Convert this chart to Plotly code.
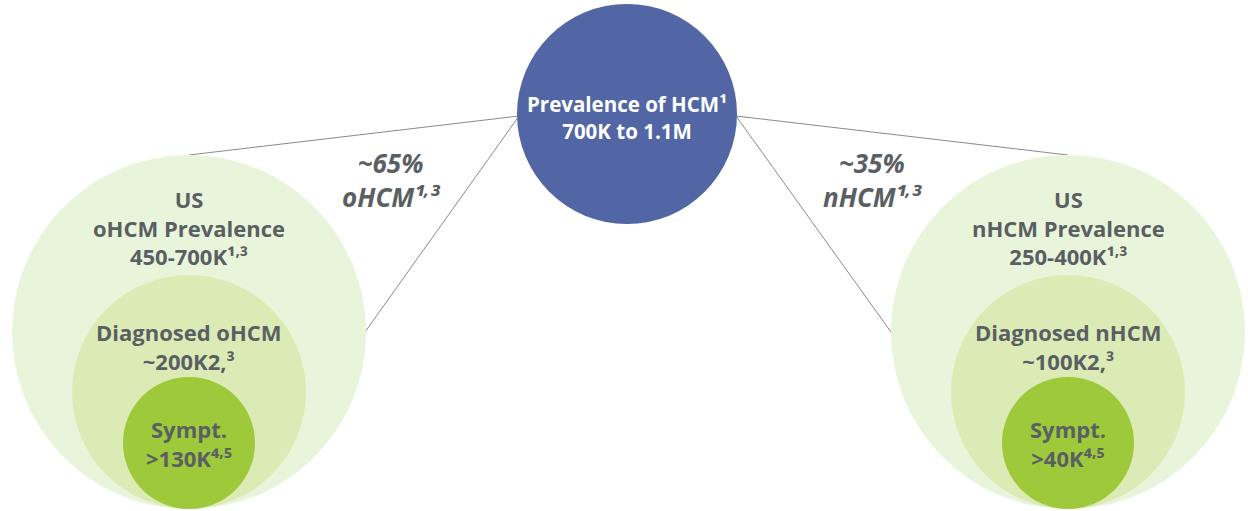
import plotly.graph_objects as go

# Diagram content (a small raised comma separates footnote numbers)
SC = "<sup>,</sup>"
top_label = ["Prevalence of HCM¹", "700K to 1.1M"]
split_labels = [["~65%", f"oHCM¹{SC}³"], ["~35%", f"nHCM¹{SC}³"]]
prevalence_labels = [
    ["US", "oHCM Prevalence", f"450-700K¹{SC}³"],
    ["US", "nHCM Prevalence", f"250-400K¹{SC}³"],
]
diagnosed_labels = [
    ["Diagnosed oHCM", "~200K2,³"],
    ["Diagnosed nHCM", "~100K2,³"],
]
symptomatic_labels = [
    ["Sympt.", f">130K⁴{SC}⁵"],
    ["Sympt.", f">40K⁴{SC}⁵"],
]

# Layout geometry (pixel space)
W, H = 1248, 511
top_c = (627, 114, 110)
group_cx = [189, 1068]
base_y = 509
radii = [177, 117, 66]
fills = ["#E9F5DA", "#DCEBB6", "#9DC93A"]
TEXT = "#5A5F64"
FONT = "Open Sans"

fig = go.Figure()
shapes = []
annotations = []

# connector lines from the top circle to each group
lines = [
    ((519, 116), (189, 155)),
    ((519, 116), (365, 332)),
    ((736, 116), (1068, 155)),
    ((736, 116), (891, 332)),
]
for (x0, y0), (x1, y1) in lines:
    shapes.append(dict(type="line", x0=x0, y0=y0, x1=x1, y1=y1,
                       line=dict(color="#8A8A8A", width=1), layer="below"))

# nested circles for each group
for cx in group_cx:
    for r, col in zip(radii, fills):
        shapes.append(dict(type="circle", x0=cx - r, x1=cx + r,
                           y0=base_y - 2 * r, y1=base_y,
                           fillcolor=col, line=dict(width=0), layer="above"))

# top circle
tx, ty, tr = top_c
shapes.append(dict(type="circle", x0=tx - tr, x1=tx + tr, y0=ty - tr, y1=ty + tr,
                   fillcolor="#5266A6", line=dict(width=0), layer="above"))


def add_block(x, y, texts, size, color, italic=False):
    body = "<br>".join(texts)
    txt = f"<b><i>{body}</i></b>" if italic else f"<b>{body}</b>"
    annotations.append(dict(x=x, y=y, xref="x", yref="y", text=txt,
                            showarrow=False, xanchor="center", yanchor="middle",
                            align="center",
                            font=dict(family=FONT, size=size, color=color)))


add_block(tx, 117, top_label, 20.5, "white")
add_block(391, 180, split_labels[0], 26, TEXT, italic=True)
add_block(873, 180, split_labels[1], 26, TEXT, italic=True)
for i, cx in enumerate(group_cx):
    add_block(cx, 227, prevalence_labels[i], 22, TEXT)
    add_block(cx, 346, diagnosed_labels[i], 22, TEXT)
    add_block(cx, 443, symptomatic_labels[i], 22, TEXT)

fig.update_layout(
    width=W, height=H,
    margin=dict(l=0, r=0, t=0, b=0),
    paper_bgcolor="white", plot_bgcolor="white",
    xaxis=dict(range=[0, W], visible=False, fixedrange=True),
    yaxis=dict(range=[H, 0], visible=False, fixedrange=True),
    shapes=shapes, annotations=annotations, showlegend=False,
)

fig.write_html("out.html")
